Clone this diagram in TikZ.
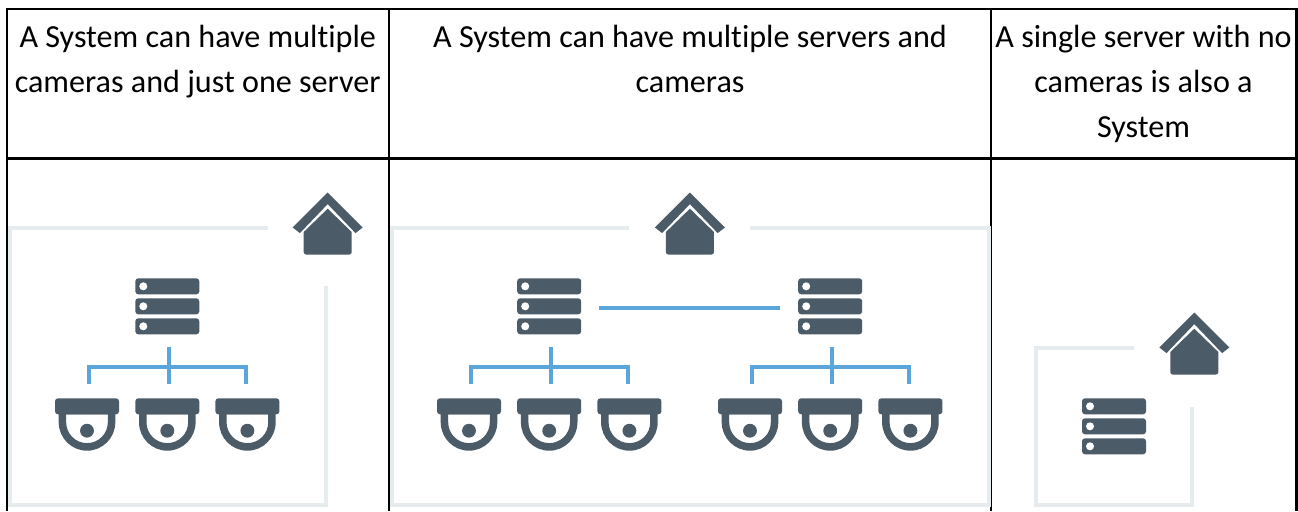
\documentclass[tikz,border=0pt]{standalone}
\usepackage{fontspec}
\setmainfont[Ligatures=NoCommon]{Carlito}
\definecolor{slateicon}{HTML}{4B5C68}
\definecolor{framegrey}{HTML}{E6EBEE}
\definecolor{linkblue}{HTML}{5AA5DA}
\tikzset{
  gridline/.style={draw=black,line width=1.6pt},
  framepath/.style={draw=framegrey,line width=3pt,miter limit=10},
  linkline/.style={draw=linkblue,line width=3pt},
  celltext/.style={font=\fontsize{24.1}{33.75}\selectfont,align=center,anchor=north,inner sep=0pt,text=black},
  pics/server/.style={code={
    \foreach \t in {0,20,40}{
      \fill[slateicon,rounded corners=2.2pt] (0,\t) rectangle (64,\t+16);
      \fill[white] (8,\t+8) circle[radius=3pt];
    }
    \coordinate (-stemtop) at (34,68.4);
    \coordinate (-stemjoin) at (34,88.4);
    \coordinate (-stembot) at (34,106);
    \coordinate (-barl) at (-46,88.4);
    \coordinate (-barr) at (110.4,88.4);
    \coordinate (-dropl) at (-46,106);
    \coordinate (-dropr) at (110.4,106);
    \coordinate (-linkout) at (82.2,30);
    \coordinate (-linkin) at (-17.8,30);
  }},
  pics/camera/.style={code={
    \fill[slateicon,rounded corners=2.2pt] (0,0) rectangle (64,16);
    \fill[slateicon,even odd rule]
      (3.7,12) -- (3.7,24) .. controls (3.7,39.6) and (16.4,52.4) .. (32,52.4)
      .. controls (47.6,52.4) and (60.3,39.6) .. (60.3,24) -- (60.3,12) -- cycle
      (11.2,16) -- (11.2,24) .. controls (11.2,35.5) and (20.5,44.8) .. (32,44.8)
      .. controls (43.5,44.8) and (52.8,35.5) .. (52.8,24) -- (52.8,16) -- cycle;
    \fill[slateicon] (32,32.4) circle[radius=5.2pt];
  }},
  pics/home/.style={code={
    \fill[slateicon] (0,0) -- (35,35) -- (27.8,40.6) -- (0,11.6) -- (-27.8,40.6) -- (-35,35) -- cycle;
    \fill[slateicon] (0,16.2) -- (24,39.5) -- (24,59.6) .. controls (24,61) and (23,62) .. (21.6,62)
      -- (-21.6,62) .. controls (-23,62) and (-24,61) .. (-24,59.6) -- (-24,39.5) -- cycle;
  }}
}
\begin{document}
\begin{tikzpicture}[x=0.75pt,y=-0.75pt]
\useasboundingbox (0,0) rectangle (1298,511);
\fill[white] (0,0) rectangle (1298,511);
% table grid
\coordinate (tl) at (7,9);
\coordinate (tr) at (1296.5,9);
\coordinate (ml) at (7,158.5);
\coordinate (mr) at (1296.5,158.5);
\coordinate (bl) at (7,511);
\coordinate (br) at (1296.5,511);
\coordinate (c1t) at (389,9);
\coordinate (c1b) at (389,511);
\coordinate (c2t) at (991,9);
\coordinate (c2b) at (991,511);
\draw[gridline] (bl) -- (tl) -- (tr) -- (br);
\draw[gridline] (ml) -- (mr);
\draw[gridline] (c1t) -- (c1b);
\draw[gridline] (c2t) -- (c2b);
% header text
\node[celltext] (h1) at (197.7,25) {A System can have multiple\\cameras and just one server};
\node[celltext] (h2) at (690,25) {A System can have multiple servers and\\cameras};
\node[celltext] (h3) at (1143.5,25) {A single server with no\\cameras is also a\\System};
% frames
\coordinate (f1a) at (268,228.2);
\coordinate (f1b) at (9.5,228.2);
\coordinate (f1c) at (9.5,504.7);
\coordinate (f1d) at (325.7,504.7);
\coordinate (f1e) at (325.7,286);
\draw[framepath] (f1a) -- (f1b) -- (f1c) -- (f1d) -- (f1e);
\coordinate (f2a) at (629.4,228.2);
\coordinate (f2b) at (392,228.2);
\coordinate (f2c) at (392,505);
\coordinate (f2d) at (988.7,505);
\coordinate (f2e) at (988.7,228.2);
\coordinate (f2f) at (750.4,228.2);
\draw[framepath] (f2a) -- (f2b) -- (f2c) -- (f2d) -- (f2e) -- (f2f);
\coordinate (f3a) at (1134.3,348.3);
\coordinate (f3b) at (1036,348.3);
\coordinate (f3c) at (1036,504.5);
\coordinate (f3d) at (1192.3,504.5);
\coordinate (f3e) at (1192.3,406.7);
\draw[framepath] (f3a) -- (f3b) -- (f3c) -- (f3d) -- (f3e);
% icons
\pic (home1) at (327.7,192.5) {home};
\pic (home2) at (689.9,192.5) {home};
\pic (home3) at (1194.3,312.5) {home};
\pic (s1) at (135.3,278.3) {server};
\pic (s2) at (517.2,278.3) {server};
\pic (s3) at (798.2,278.3) {server};
\pic (s4) at (1082,398.3) {server};
\foreach \n/\x in {a/55,b/135.3,c/215.4,d/437,e/517.2,f/597.4,g/718,h/798.2,i/878.4}{
  \pic (cam\n) at (\x,398.3) {camera};
}
% connectors
\foreach \s in {s1,s2,s3}{
  \draw[linkline] (\s-stemtop) -- (\s-stembot);
  \draw[linkline] (\s-dropl) -- (\s-barl) -- (\s-barr) -- (\s-dropr);
}
\draw[linkline] (s2-linkout) -- (s3-linkin);
\end{tikzpicture}
\end{document}
